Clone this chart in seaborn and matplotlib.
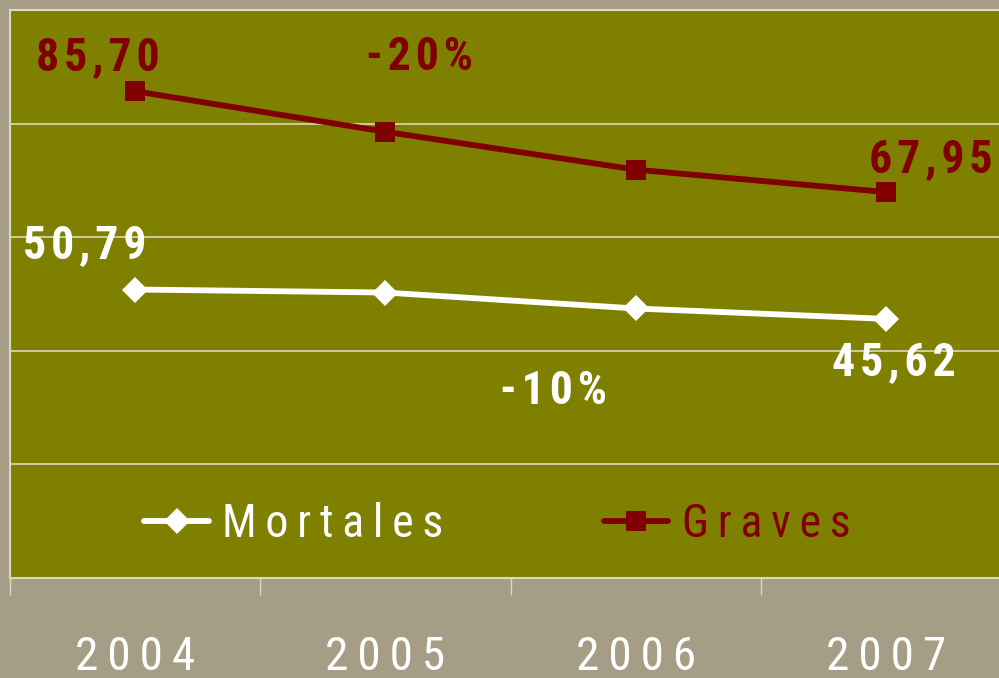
import numpy as np
import pandas as pd
import matplotlib
matplotlib.use("Agg")
import matplotlib.pyplot as plt
from matplotlib import font_manager
import seaborn as sns

# values
years = ["2004", "2005", "2006", "2007"]
mortales = [50.79, 50.26, 47.45, 45.62]
graves = [85.70, 78.56, 71.90, 67.95]
series_names = ["Mortales", "Graves"]
grid_values = [20, 40, 60, 80]

OLIVE = "#808000"
OUTER = "#A69D86"
RED = "#800000"
WHITE = "#FFFFFF"
LIGHT = "#DCD8C0"
TS = "\u2009"  # thin space between characters
HS = "\u200a"  # hair space


def spaced(s, sep):
    return sep.join(s)


sns.set_theme(style="white")
installed = {f.name for f in font_manager.fontManager.ttflist}
narrow, stretch = "DejaVu Sans", "condensed"
for nm in ["Roboto Condensed", "Liberation Sans Narrow", "Archivo Narrow"]:
    if nm in installed:
        narrow, stretch = nm, "normal"
        break
plt.rcParams["font.family"] = [narrow, "DejaVu Sans"]
plt.rcParams["font.stretch"] = stretch

df = pd.DataFrame({
    "year": years * 2,
    "value": mortales + graves,
    "serie": [series_names[0]] * 4 + [series_names[1]] * 4,
})

fig = plt.figure(figsize=(9.99, 6.78), dpi=100, facecolor=OUTER)
ax = fig.add_axes([10 / 999, 100 / 678, 1001 / 999, 568 / 678])
ax.set_facecolor(OLIVE)

sns.lineplot(data=df, x="year", y="value", hue="serie", style="serie",
             palette={"Mortales": WHITE, "Graves": RED},
             markers={"Mortales": "D", "Graves": "s"}, dashes=False,
             linewidth=4.2, markersize=14, markeredgewidth=0,
             legend=False, ax=ax, zorder=3)
for ln in ax.get_lines():
    if ln.get_marker() == "D":
        ln.set_markersize(13)

ax.set_xlim(-0.5, 3.5)
ax.set_ylim(0, 100)
ax.set_yticks(grid_values)
ax.set_yticklabels([])
ax.tick_params(axis="y", length=0)
ax.grid(axis="y", color=LIGHT, linewidth=1.2)
ax.set_axisbelow(True)

ax.set_xticks(range(len(years)))
ax.set_xticklabels([spaced(y, TS) for y in years], color=WHITE, fontsize=34)
ax.set_xticks(np.arange(-0.5, 4, 1), minor=True)
ax.tick_params(axis="x", which="major", bottom=True, length=0, pad=41)
ax.tick_params(axis="x", which="minor", bottom=True, length=12, width=1,
               color=LIGHT, direction="out")
ax.set_xlabel("")
ax.set_ylabel("")

for side in ["left", "bottom", "top"]:
    ax.spines[side].set_color(LIGHT)
    ax.spines[side].set_linewidth(1.5)
ax.spines["right"].set_visible(False)

# value labels and percentage changes
lbl = dict(fontsize=33, fontweight="bold", ha="center", va="baseline")
ax.text(-0.15, 89.4, spaced("85,70", HS), color=RED, **lbl)
ax.text(1.135, 89.4, spaced("-20%", HS), color=RED, **lbl)
ax.text(3.18, 71.5, spaced("67,95", HS), color=RED, **lbl)
ax.text(-0.2, 56.3, spaced("50,79", HS), color=WHITE, **lbl)
ax.text(3.03, 35.7, spaced("45,62", HS), color=WHITE, **lbl)
ax.text(1.67, 30.6, spaced("-10%", HS), color=WHITE, **lbl)

handles = ax.get_lines()[:2]
leg = ax.legend(handles, [spaced(s, TS) for s in series_names], loc="center",
                bbox_to_anchor=(0.487, 0.095), ncol=2, frameon=False, fontsize=33,
                handlelength=1.4, handletextpad=0.3, columnspacing=3.5)
for txt, col in zip(leg.get_texts(), [WHITE, RED]):
    txt.set_color(col)

fig.savefig("out.png", dpi=100, facecolor=OUTER)
